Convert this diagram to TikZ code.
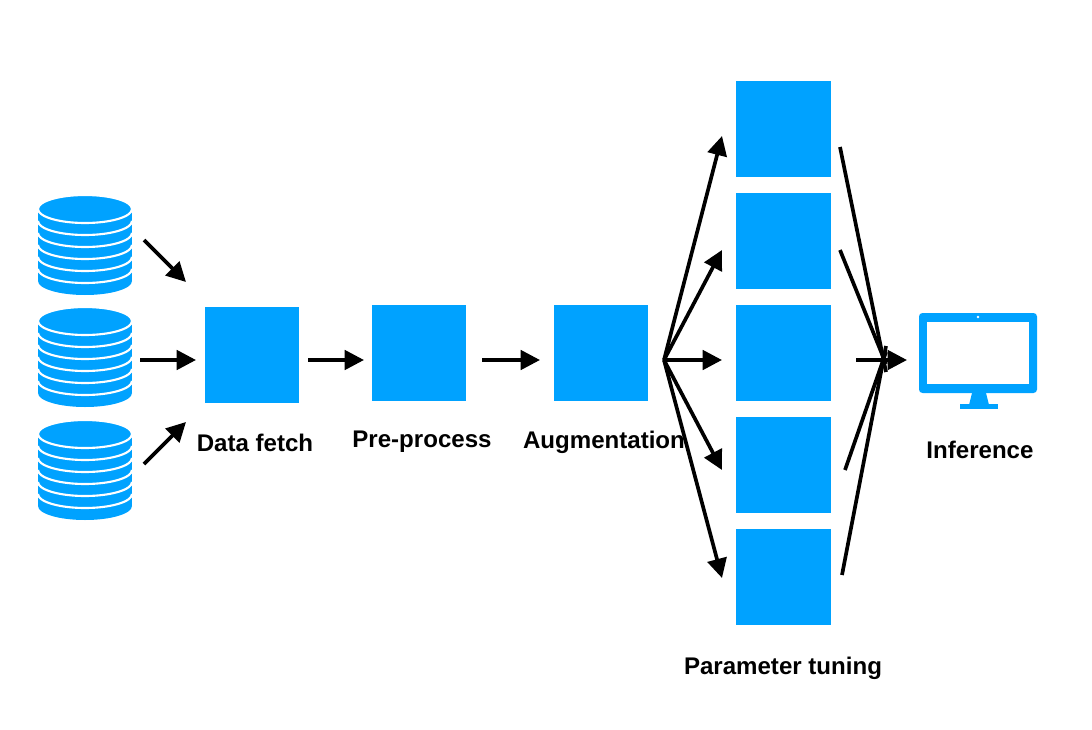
\documentclass[tikz,border=0pt]{standalone}
\usepackage{fontspec}
\setmainfont{Liberation Sans}
\usetikzlibrary{arrows.meta}
\definecolor{blu}{HTML}{00A2FF}
\begin{document}
\begin{tikzpicture}[x=0.02cm,y=-0.02cm,
  box/.style={fill=blu,draw=none,minimum width=1.9cm,minimum height=1.92cm,inner sep=0},
  lbl/.style={font=\fontsize{13.7}{16}\selectfont\bfseries},
  arr/.style={line width=2.1pt,-{Triangle[length=11pt,width=11pt]}},
  ln/.style={line width=2.1pt}]
\useasboundingbox (0,0) rectangle (1092,730);
\newcommand{\dbicon}[2]{%
  \fill[blu] (#1-47,#2) rectangle (#1+47,#2+72);
  \fill[blu] (#1,#2+72) ellipse [x radius=47,y radius=-14];
  \foreach \k in {1,...,5}{
    \draw[white,line width=1.2pt] (#1-47,#2+12*\k) arc[start angle=180,end angle=360,x radius=47,y radius=-14];}
  \filldraw[fill=blu,draw=white,line width=1.2pt] (#1,#2) ellipse [x radius=47,y radius=-14];}
\dbicon{85}{209}
\dbicon{85}{321}
\dbicon{85}{434}
\node[box] (df) at (252,355) {};
\node[box] (pp) at (419,353) {};
\node[box] (au) at (601,353) {};
\node[box] (t1) at (783,129) {};
\node[box] (t2) at (783,241) {};
\node[box] (t3) at (783,353) {};
\node[box] (t4) at (783,465) {};
\node[box] (t5) at (783,577) {};
\node[lbl] at (255,443) {Data fetch};
\node[lbl] at (422,442) {Pre-process};
\node[lbl] at (604,442) {Augmentation};
\node[lbl] at (980,450) {Inference};
\node[lbl] at (783,668) {Parameter tuning};
\coordinate (a1) at (144,240); \coordinate (b1) at (186,282);
\coordinate (a2) at (140,360); \coordinate (b2) at (196,360);
\coordinate (a3) at (144,464); \coordinate (b3) at (186,422);
\draw[arr] (a1)--(b1); \draw[arr] (a2)--(b2); \draw[arr] (a3)--(b3);
\coordinate (p1) at (308,360); \coordinate (p2) at (364,360);
\coordinate (q1) at (482,360); \coordinate (q2) at (540,360);
\draw[arr] (p1)--(p2); \draw[arr] (q1)--(q2);
\coordinate (f) at (664,360);
\foreach \y in {136,250,360,470,578}{\draw[arr] (f)--(722,\y);}
\coordinate (m) at (888,360);
\draw[ln] (840,147)--(886,372);
\draw[ln] (840,250)--(886,364);
\draw[ln] (845,470)--(886,352);
\draw[ln] (842,575)--(886,346);
\coordinate (i1) at (856,360); \coordinate (i2) at (907,360);
\draw[arr] (i1)--(i2);
% monitor
\node (mon) at (978,353) {};
\fill[blu,rounded corners=2pt] (919,313) rectangle (1037,393);
\fill[white] (927,322) rectangle (1029,384);
\fill[blu] (972,393) -- (986,393) -- (989,405) -- (969,405) -- cycle;
\fill[blu] (960,404) rectangle (998,409);
\fill[white] (978,317) circle (1.3);
\end{tikzpicture}
\end{document}
